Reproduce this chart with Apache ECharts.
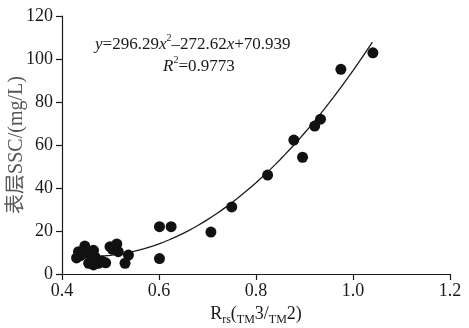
<!DOCTYPE html>
<html>
<head>
<meta charset="utf-8">
<script src="https://cdn.jsdelivr.net/npm/echarts@6/dist/echarts.min.js"></script>
<style>
  html, body { margin: 0; padding: 0; background: #fff; }
  #chart { width: 469px; height: 328px; }
</style>
</head>
<body>
<div id="chart"></div>
<script>
// Observed samples: band ratio Rrs(TM3/TM2) vs. surface SSC (mg/L)
const ratioX = [0.430, 0.434, 0.438, 0.447, 0.450, 0.455, 0.465, 0.465, 0.468, 0.475,
                0.482, 0.490, 0.499, 0.504, 0.513, 0.516, 0.530, 0.537,
                0.601, 0.625, 0.601, 0.707, 0.750, 0.824, 0.878, 0.896, 0.921,
                0.933, 0.975, 1.041];
const sscY   = [7.5, 10.4, 8.5, 13.0, 9.6, 5.0, 11.0, 4.2, 8.0, 5.0,
                6.0, 5.2, 12.7, 11.5, 14.0, 10.4, 5.0, 8.8,
                22.0, 22.0, 7.2, 19.5, 31.2, 46.0, 62.3, 54.3, 68.8,
                72.0, 95.2, 102.9];

// Quadratic fit y = a x^2 + b x + c, as stated on the chart
const fitCoef = [296.29, -272.62, 70.939];
const fitRange = [0.44, 1.04];

const xTicks = [0.4, 0.6, 0.8, 1.0, 1.2];
const yTicks = [0, 20, 40, 60, 80, 100, 120];

const points = ratioX.map((x, i) => [x, sscY[i]]);
const fitLine = [];
const steps = 60;
for (let k = 0; k <= steps; k++) {
  const x = fitRange[0] + (fitRange[1] - fitRange[0]) * k / steps;
  fitLine.push([x, fitCoef[0] * x * x + fitCoef[1] * x + fitCoef[2]]);
}

const serif = '"Liberation Serif", "Times New Roman", serif';
const ink = '#1a1a1a';

const chart = echarts.init(document.getElementById('chart'), null, { renderer: 'canvas' });
chart.setOption({
  animation: false,
  backgroundColor: '#fff',
  grid: { left: 62, right: 19, top: 16, bottom: 54, containLabel: false, outerBoundsMode: 'none' },
  xAxis: {
    type: 'value',
    min: xTicks[0], max: xTicks[xTicks.length - 1], interval: 0.2,
    axisLine: { show: true, lineStyle: { color: ink, width: 1.2 } },
    axisTick: { show: true, inside: false, length: 6, lineStyle: { color: ink, width: 1.2 } },
    splitLine: { show: false },
    axisLabel: { color: ink, fontFamily: serif, fontSize: 18, margin: 8,
                 formatter: v => v.toFixed(1) },
    name: '{r|R}{s|rs}{r|(}{s|TM}{r|3/}{s|TM}{r|2)}',
    nameLocation: 'middle',
    nameGap: 29,
    nameMoveOverlap: false,
    nameTextStyle: {
      rich: {
        r: { fontFamily: serif, fontSize: 18, color: ink, lineHeight: 20, verticalAlign: 'bottom' },
        s: { fontFamily: serif, fontSize: 12, color: ink, lineHeight: 14, verticalAlign: 'bottom', padding: [0, 0, -3, 0] }
      }
    }
  },
  yAxis: {
    type: 'value',
    min: yTicks[0], max: yTicks[yTicks.length - 1], interval: 20,
    axisLine: { show: true, lineStyle: { color: ink, width: 1.2 } },
    axisTick: { show: true, inside: false, length: 6, lineStyle: { color: ink, width: 1.2 } },
    splitLine: { show: false },
    axisLabel: { color: ink, fontFamily: serif, fontSize: 18, margin: 9 },
    name: '表层SSC/(mg/L)',
    nameLocation: 'middle',
    nameGap: 35,
    nameRotate: 90,
    nameMoveOverlap: false,
    nameTextStyle: { color: '#555', fontFamily: serif + ', "Noto Sans CJK SC"', fontSize: 20 }
  },
  series: [
    {
      type: 'line',
      data: fitLine,
      showSymbol: false,
      smooth: false,
      lineStyle: { color: ink, width: 1.3 },
      z: 2
    },
    {
      type: 'scatter',
      data: points,
      symbol: 'circle',
      symbolSize: 11,
      itemStyle: { color: '#111', opacity: 1 },
      z: 3
    }
  ],
  graphic: [
    {
      type: 'text',
      left: 95, top: 33,
      style: {
        text: '{i|y}{n|=296.29}{i|x}{p|2}{n|–272.62}{i|x}{n|+70.939}',
        rich: {
          i: { fontFamily: serif, fontStyle: 'italic', fontSize: 17, fill: ink, verticalAlign: 'bottom', lineHeight: 20 },
          n: { fontFamily: serif, fontSize: 17, fill: ink, verticalAlign: 'bottom', lineHeight: 20 },
          p: { fontFamily: serif, fontSize: 10, fill: ink, verticalAlign: 'top', lineHeight: 20 }
        }
      }
    },
    {
      type: 'text',
      left: 163, top: 55,
      style: {
        text: '{i|R}{p|2}{n|=0.9773}',
        rich: {
          i: { fontFamily: serif, fontStyle: 'italic', fontSize: 17, fill: ink, verticalAlign: 'bottom', lineHeight: 20 },
          n: { fontFamily: serif, fontSize: 17, fill: ink, verticalAlign: 'bottom', lineHeight: 20 },
          p: { fontFamily: serif, fontSize: 10, fill: ink, verticalAlign: 'top', lineHeight: 20 }
        }
      }
    }
  ]
});
</script>
</body>
</html>
